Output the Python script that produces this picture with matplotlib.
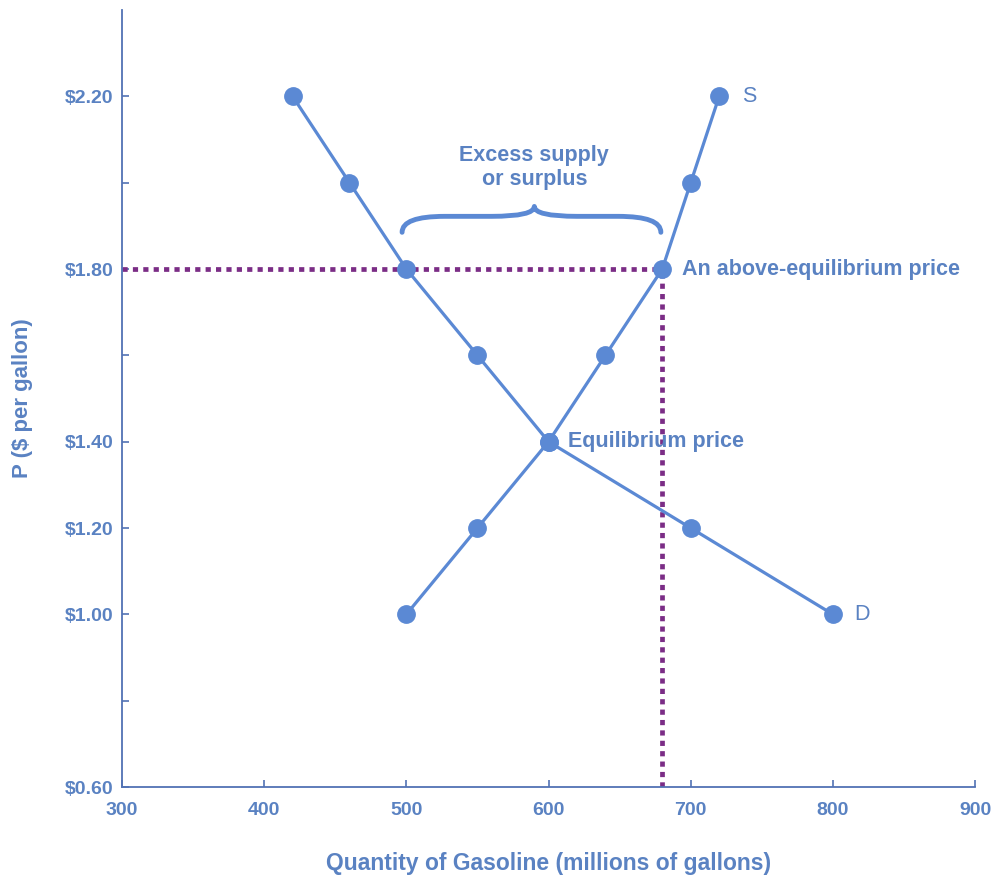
import matplotlib
matplotlib.use("Agg")
import matplotlib.pyplot as plt
import numpy as np
from matplotlib.path import Path
from matplotlib.patches import PathPatch

plt.rcParams['font.family'] = ['Liberation Sans', 'DejaVu Sans']

# demand and supply schedules
demand_q = [420, 460, 500, 550, 600, 700, 800]
demand_p = [2.20, 2.00, 1.80, 1.60, 1.40, 1.20, 1.00]
supply_q = [500, 550, 600, 640, 680, 700, 720]
supply_p = [1.00, 1.20, 1.40, 1.60, 1.80, 2.00, 2.20]

price_above = 1.80
qd_above = 500
qs_above = 680

xticks = [300, 400, 500, 600, 700, 800, 900]
yticks = [0.60, 1.00, 1.20, 1.40, 1.80, 2.20]
yticks_minor = [0.80, 1.60, 2.00]

curve_col = '#5b89d4'
text_col = '#5a82c2'
axis_col = '#5272b4'
dot_col = '#7b2d86'

fig = plt.figure(figsize=(9.95, 8.77), dpi=100)
ax = fig.add_axes([0.1226, 0.1026, 0.8574, 0.886])

ax.set_xlim(300, 900)
ax.set_ylim(0.60, 2.40)

# dotted guide lines at the above-equilibrium price
ax.plot([300, qs_above], [price_above, price_above], color=dot_col, lw=3.4,
        linestyle=(0, (1.1, 1.1)), zorder=2)
ax.plot([qs_above, qs_above], [0.60, price_above], color=dot_col, lw=3.4,
        linestyle=(0, (1.1, 1.1)), zorder=2)

ax.plot(demand_q, demand_p, color=curve_col, lw=2.3, marker='o', ms=12.5, zorder=3,
        clip_on=False)
ax.plot(supply_q, supply_p, color=curve_col, lw=2.3, marker='o', ms=12.5, zorder=3,
        clip_on=False)

# curly brace over the surplus
x0, x1 = qd_above - 3, qs_above - 1
xm = 590
yb, yt, ytip = 1.885, 1.922, 1.945
verts = [(x0, yb), (x0, yt), (x0 + 30, yt),
         (xm - 30, yt),
         (xm, yt), (xm, ytip),
         (xm, yt), (xm + 30, yt),
         (x1 - 30, yt),
         (x1, yt), (x1, yb)]
codes = [Path.MOVETO, Path.CURVE3, Path.CURVE3,
         Path.LINETO,
         Path.CURVE3, Path.CURVE3,
         Path.CURVE3, Path.CURVE3,
         Path.LINETO,
         Path.CURVE3, Path.CURVE3]
ax.add_patch(PathPatch(Path(verts, codes), fill=False, edgecolor=curve_col, lw=3.5,
                       capstyle='round', joinstyle='round'))

ax.text(xm, 2.035, 'Excess supply\nor surplus', ha='center', va='center',
        fontsize=15.5, fontweight='bold', color=text_col, linespacing=1.2)
ax.text(614, 1.40, 'Equilibrium price', ha='left', va='center',
        fontsize=15.5, fontweight='bold', color=text_col)
ax.text(694, 1.80, 'An above-equilibrium price', ha='left', va='center',
        fontsize=15.5, fontweight='bold', color=text_col)
ax.text(736, 2.20, 'S', ha='left', va='center', fontsize=15.5, color=text_col)
ax.text(815, 1.00, 'D', ha='left', va='center', fontsize=15.5, color=text_col)

ax.spines['top'].set_visible(False)
ax.spines['right'].set_visible(False)
for s in ['left', 'bottom']:
    ax.spines[s].set_color(axis_col)
    ax.spines[s].set_linewidth(1.3)

ax.set_xticks(xticks)
ax.set_xticklabels([str(v) for v in xticks])
ax.set_yticks(yticks)
ax.set_yticklabels(['$%.2f' % v for v in yticks])
ax.set_yticks(yticks_minor, minor=True)
ax.tick_params(axis='both', which='both', direction='in', length=5, width=1.2,
               color=axis_col, labelcolor=text_col, labelsize=14)
ax.tick_params(axis='y', pad=6)
ax.tick_params(axis='x', pad=11)
for lab in ax.get_xticklabels() + ax.get_yticklabels():
    lab.set_fontweight('bold')

ax.set_xlabel('Quantity of Gasoline (millions of gallons)', fontsize=16.5,
              fontweight='bold', color=text_col)
ax.set_ylabel('P ($ per gallon)', fontsize=16, fontweight='bold', color=text_col)
ax.xaxis.set_label_coords(0.5, -0.084)
ax.yaxis.set_label_coords(-0.104, 0.5)

plt.savefig('out.png', dpi=100)
